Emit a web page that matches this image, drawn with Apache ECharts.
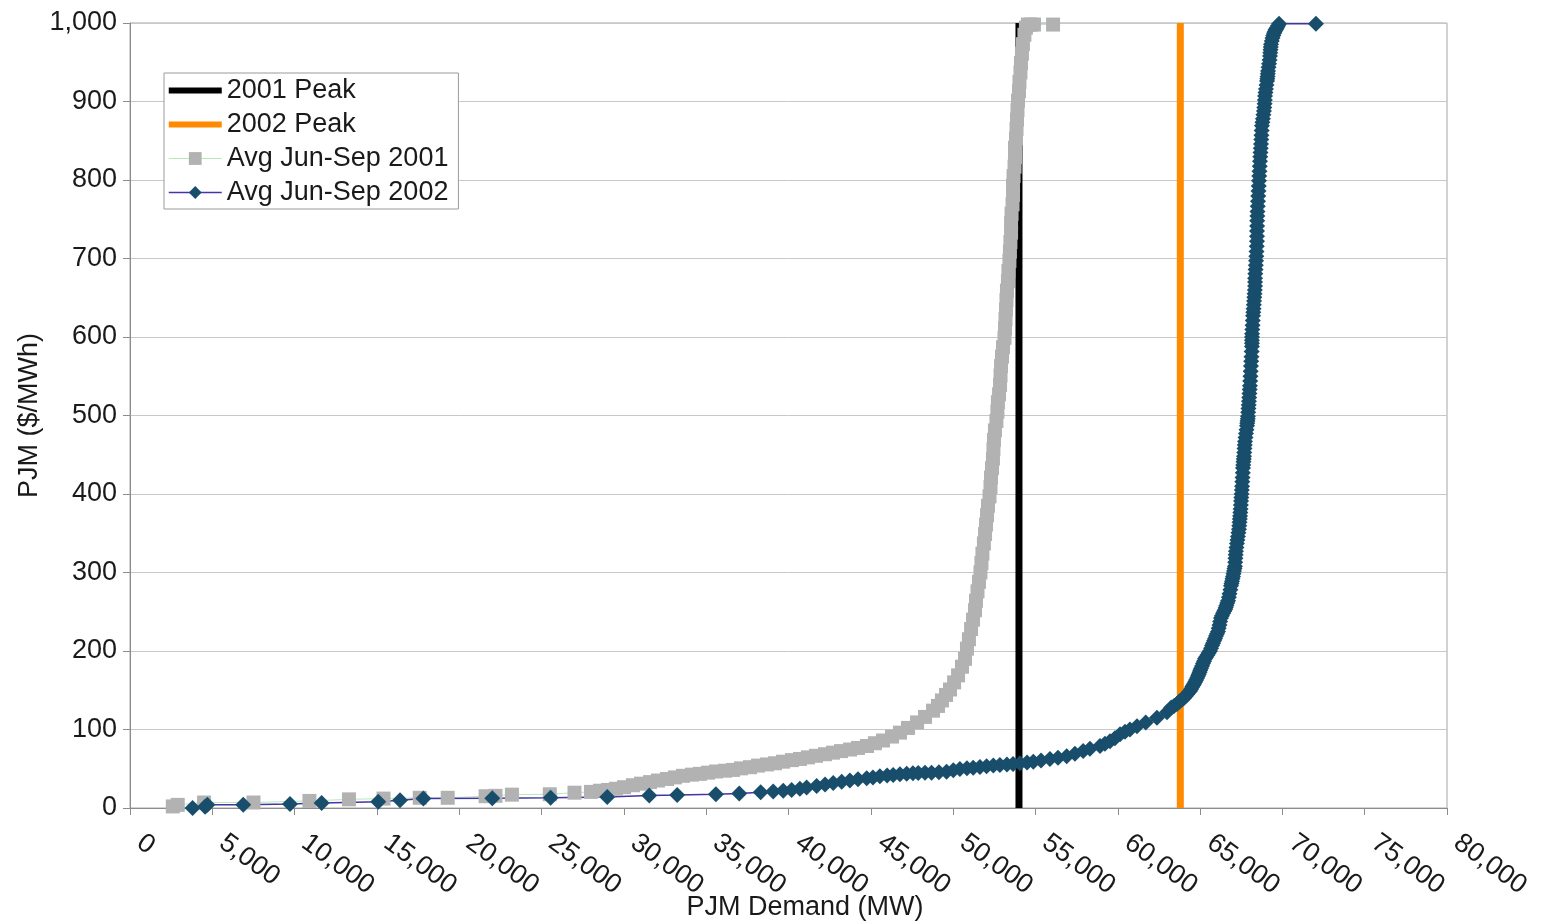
<!DOCTYPE html>
<html>
<head>
<meta charset="utf-8">
<script src="https://cdn.jsdelivr.net/npm/echarts@6/dist/echarts.min.js"></script>
<style>
  html, body { margin: 0; padding: 0; background: #ffffff; }
  #chart { width: 1546px; height: 924px; }
</style>
</head>
<body>
<div id="chart"></div>
<script>
// Legend / series names
const seriesNames = ['2001 Peak', '2002 Peak', 'Avg Jun-Sep 2001', 'Avg Jun-Sep 2002'];

// Summer peak loads (MW)
const peak2001 = 54000;
const peak2002 = 63800;
const peakPriceRange = [0, 1000];

// Axis titles
const xTitle = 'PJM Demand (MW)';
const yTitle = 'PJM ($/MWh)';

// Average Jun-Sep 2001 : [demand MW, price $/MWh]
const avg2001 = [
  [2600,2],[2900,4],[4500,7],[7500,7],[10900,9],[13300,11],[15400,12],[17600,13],[19300,13],
  [21600,15],[22200,15.5],[23200,17],[25500,17.5],[27000,19.5],[28000,20.5],[28550,22],[29040,23],
  [29520,24.5],[30010,26.5],[30550,29],[31040,31],[31590,33],[32070,35],[32620,37],[33100,39],
  [33590,41],[34140,42.5],[34620,43.5],[35110,45],[35600,46.5],[36140,47.5],[36630,48.5],[37110,50.5],
  [37660,52],[38150,54],[38690,55.5],[39180,57],[39670,59],[40210,61],[40700,62.5],[41180,64.5],
  [41670,66.5],[42220,68.5],[42700,70.5],[43190,72.5],[43740,74.5],[44220,76.5],[44770,79],[45250,82.5],
  [45740,86],[46290,91],[46770,96],[47260,102],[47810,109],[48290,116],[48780,124],[49080,130],
  [49320,137],[49570,144],[49810,151],[50060,160],[50300,169],[50540,180],[50720,190],[50840,203],
  [50960,215],[51090,228],[51210,240],[51330,252],[51390,264],[51480,276],[51570,288],[51660,300],
  [51720,312],[51780,324],[51870,337],[51940,349],[52000,361],[52060,373],[52120,385],[52210,397],
  [52270,409],[52300,421],[52360,433],[52420,445],[52450,457],[52480,469],[52540,481],[52630,493],
  [52690,505],[52720,517],[52790,527],[52850,539],[52880,551],[52910,563],[52970,575],[53030,587],
  [53120,599],[53150,611],[53180,623],[53210,635],[53240,647],[53270,659],[53330,671],[53360,684],
  [53420,697],[53450,709],[53480,721],[53520,733],[53520,745],[53550,757],[53610,769],[53640,781],
  [53640,793],[53670,805],[53730,817],[53760,829],[53760,841],[53820,853],[53850,865],[53880,877],
  [53910,889],[53940,901],[54000,913],[54030,925],[54090,937],[54120,949],[54180,961],[54240,973],
  [54330,985],[54420,994],[54540,998],[54730,998],[54910,998],[56070,998]
];

// Average Jun-Sep 2002 : [demand MW, price $/MWh]
const avg2002 = [
  [3800,0],[4560,1.5],[4700,4],[6880,4],[9720,5],[11640,6.5],[15080,8],[16400,10],[17820,12],
  [22010,12.5],[25550,13],[28990,14],[31540,16],[33240,16.5],[35590,17.5],[37010,18.5],[38310,20],
  [39070,21],[39680,22],[40190,23],[40690,24.5],[41100,26],[41710,28],[42220,30],[42720,32],
  [43230,33.5],[43730,35],[44220,36.5],[44750,38],[45130,39],[45550,40.5],[45990,41.5],[46360,42],
  [46770,43],[47180,43.7],[47560,44.2],[47880,44.6],[48290,44.8],[48690,45],[49140,45.5],[49600,46.2],
  [50010,48],[50410,49.7],[50840,50.5],[51220,51.3],[51630,52.2],[52030,53.1],[52440,54],[52840,54.8],
  [53270,55.5],[53640,56.2],[54060,57],[54490,58],[54870,59],[55340,60.5],[55880,62.4],[56370,64],
  [56900,66],[57400,69],[57900,72.6],[58310,75.5],[58920,79],[59220,82],[59530,85],[59830,89],
  [60140,94],[60440,97],[60740,100],[61170,104],[61700,109],[62380,115],[62990,122],[63250,128],
  [63420,130],[63600,132.5],[63710,135],[63820,137],[63920,138.5],[64020,140],[64120,142.5],[64220,145],
  [64300,147],[64390,149],[64460,151.5],[64520,154],[64580,156],[64630,158],[64700,160.5],[64760,163],
  [64820,165.5],[64875,168],[64920,170.5],[64970,173],[65010,175.5],[65060,178],[65120,181],[65180,184],
  [65240,187],[65300,190],[65370,192.5],[65450,195],[65520,197.5],[65600,200],[65670,203.5],[65730,207],
  [65790,210],[65850,213],[65910,216],[65970,219],[66030,222],[66090,225],[66130,229],[66180,233],
  [66220,237.5],[66270,242],[66330,245],[66400,248],[66460,250.5],[66520,253],[66560,255.5],[66600,258],
  [66650,261],[66700,264],[66750,268.5],[66790,273],[66840,278],[66880,283],[66910,286],[66940,289],
  [66970,292],[67000,295],[67030,298.5],[67060,302],[67090,305],[67120,308],[67135,313],[67150,318],
  [67165,322.5],[67180,327],[67210,332],[67240,337],[67270,341.5],[67300,346],[67330,350.5],[67360,355],
  [67380,359.5],[67400,364],[67415,368],[67430,372],[67445,376.5],[67460,381],[67475,386],[67490,391],
  [67505,395.5],[67520,400],[67535,405],[67550,410],[67565,415.5],[67580,421],[67595,427],[67610,433],
  [67625,437],[67640,441],[67655,444.5],[67670,448],[67685,453],[67700,458],[67715,462.5],[67730,467],
  [67760,472],[67790,477],[67820,482],[67850,487],[67865,490],[67880,493],[67895,496],[67910,499],
  [67925,504],[67940,509],[67955,513.5],[67970,518],[67985,523],[68000,528],[68015,533],[68030,538],
  [68045,544],[68060,550],[68075,556.5],[68090,563],[68105,569],[68120,575],[68135,581.5],[68150,588],
  [68150,592],[68150,596],[68155,600],[68160,604],[68175,609.5],[68190,615],[68205,621],[68220,627],
  [68235,631.5],[68250,636],[68265,641],[68280,646],[68295,650.5],[68310,655],[68325,660],[68340,665],
  [68340,670],[68340,675],[68355,680.5],[68370,686],[68385,691.5],[68400,697],[68415,703],[68430,709],
  [68445,715.5],[68460,722],[68460,728.5],[68460,735],[68465,741.5],[68470,748],[68480,754],[68490,760],
  [68505,766.5],[68520,773],[68535,779.5],[68550,786],[68565,792.5],[68580,799],[68595,805],[68610,811],
  [68625,817.5],[68640,824],[68655,829.5],[68670,835],[68685,840.5],[68700,846],[68715,851.5],[68730,857],
  [68745,863],[68760,869],[68790,873.5],[68820,878],[68850,883],[68880,888],[68900,892.5],[68920,897],
  [68935,902],[68950,907],[68975,911.5],[69000,916],[69035,921],[69070,926],[69085,929],[69100,932],
  [69115,935.5],[69130,939],[69160,943.5],[69190,948],[69220,953],[69250,958],[69265,962],[69280,966],
  [69295,969.5],[69310,973],[69355,977],[69400,981],[69445,984],[69490,987],[69535,989],[69580,991],
  [69625,992.5],[69670,994],[69735,996.5],[69800,999],[72040,999]
];

const FONT = 'Liberation Sans, Arial, sans-serif';
const TEXT = '#1a1a1a';
const fmt = v => Number(v).toLocaleString('en-US');

// Legend swatch for the peak markers: a thick horizontal bar across the item box
const barIcon = 'path://M0,0M0,5L53,5L53,11L0,11ZM53,16';

const chart = echarts.init(document.getElementById('chart'), null, { renderer: 'canvas' });

chart.setOption({
  animation: false,
  backgroundColor: '#ffffff',
  textStyle: { fontFamily: FONT },
  grid: {
    left: 130, right: 99, top: 23, bottom: 116,
    outerBoundsMode: 'none', containLabel: false,
    show: true, borderColor: '#a6a6a6', borderWidth: 1, backgroundColor: 'transparent'
  },
  legend: {
    data: [
      { name: seriesNames[0], icon: barIcon },
      { name: seriesNames[1], icon: barIcon },
      { name: seriesNames[2], lineStyle: { width: 1 } },
      { name: seriesNames[3], lineStyle: { width: 1.5 } }
    ],
    orient: 'vertical',
    left: 164, top: 73,
    padding: [4, 10, 3, 4],
    backgroundColor: '#ffffff',
    borderColor: '#9a9a9a', borderWidth: 1,
    itemWidth: 53, itemHeight: 16, itemGap: 7,
    symbolKeepAspect: false,
    textStyle: { fontFamily: FONT, fontSize: 27, color: TEXT, lineHeight: 27 }
  },
  xAxis: {
    type: 'value', min: 0, max: 80000, interval: 5000,
    name: xTitle, nameLocation: 'middle', nameGap: 86, nameMoveOverlap: false,
    nameTextStyle: { fontFamily: FONT, fontSize: 27, color: TEXT, padding: [0, 0, 0, 33] },
    axisLine: { show: true, lineStyle: { color: '#8c8c8c', width: 1 } },
    axisTick: { show: true, length: 7, lineStyle: { color: '#8c8c8c' } },
    axisLabel: {
      rotate: -36, margin: 25, padding: [0, 0, 0, 12],
      fontFamily: FONT, fontSize: 27, color: TEXT, formatter: fmt
    },
    splitLine: { show: false }
  },
  yAxis: {
    type: 'value', min: 0, max: 1000, interval: 100,
    name: yTitle, nameLocation: 'middle', nameGap: 87, nameRotate: 90, nameMoveOverlap: false,
    nameTextStyle: { fontFamily: FONT, fontSize: 27, color: TEXT },
    axisLine: { show: true, lineStyle: { color: '#8c8c8c', width: 1 } },
    axisTick: { show: true, length: 7, lineStyle: { color: '#8c8c8c' } },
    axisLabel: { margin: 13, fontFamily: FONT, fontSize: 27, color: TEXT, formatter: fmt },
    splitLine: { show: true, lineStyle: { color: '#c8c8c8', width: 1 } }
  },
  series: [
    {
      name: seriesNames[0], type: 'line', symbol: 'none',
      data: peakPriceRange.map(p => [peak2001, p]),
      lineStyle: { color: '#000000', width: 7 }, itemStyle: { color: '#000000' }
    },
    {
      name: seriesNames[1], type: 'line', symbol: 'none',
      data: peakPriceRange.map(p => [peak2002, p]),
      lineStyle: { color: '#ff8a00', width: 7 }, itemStyle: { color: '#ff8a00' }
    },
    {
      name: seriesNames[2], type: 'line', symbol: 'rect', symbolSize: 14, showAllSymbol: true,
      data: avg2001,
      lineStyle: { color: '#b8e8b8', width: 1 }, itemStyle: { color: '#b2b2b2' }
    },
    {
      name: seriesNames[3], type: 'line', symbol: 'diamond', symbolSize: 16, showAllSymbol: true,
      data: avg2002,
      lineStyle: { color: '#4434a6', width: 1.5 }, itemStyle: { color: '#184e6c' }
    }
  ]
});
</script>
</body>
</html>
